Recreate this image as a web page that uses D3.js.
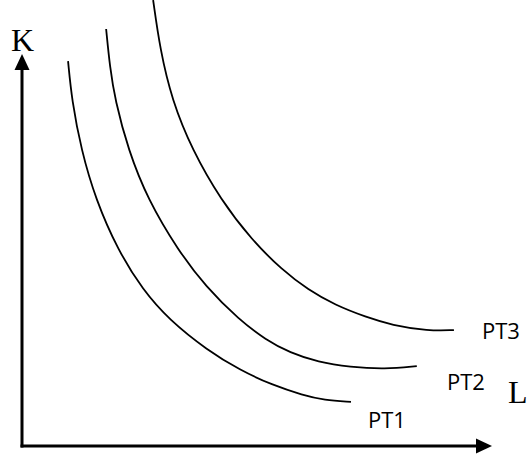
<!DOCTYPE html>
<html>
<head>
<meta charset="utf-8">
<script src="https://cdn.jsdelivr.net/npm/d3@7"></script>
<style>
  body { margin: 0; background: #fff; }
  svg { display: block; }
</style>
</head>
<body>
<div id="viz"></div>
<script>
// global variables
let w = 529;
let h = 459;

// isoquant curves (L, K)
let pt1L = [0.98, 1.06, 1.26, 1.57, 2.04, 2.57, 3.13, 3.94, 4.64, 5.32, 5.98, 6.43, 7.00];
let pt1K = [8.63, 7.76, 6.64, 5.52, 4.39, 3.50, 2.83, 2.15, 1.70, 1.37, 1.14, 1.03, 0.99];

let pt2L = [1.79, 1.87, 1.98, 2.26, 2.68, 3.32, 3.91, 4.62, 5.19, 5.70, 6.30, 6.98, 7.72, 8.40];
let pt2K = [9.35, 8.50, 7.76, 6.64, 5.52, 4.39, 3.57, 2.83, 2.38, 2.09, 1.88, 1.77, 1.72, 1.79];

let pt3L = [2.79, 2.94, 3.19, 3.62, 4.23, 4.89, 5.53, 6.09, 6.66, 7.32, 7.87, 8.64, 9.19];
let pt3K = [10.00, 8.88, 7.76, 6.64, 5.52, 4.62, 3.95, 3.50, 3.16, 2.89, 2.71, 2.58, 2.60];

let curveNames = ["PT1", "PT2", "PT3"];
let axisNames = ["K", "L"];

// put the svg onto the page:
let viz = d3.select("#viz")
  .append("svg")
    .attr("width", w)
    .attr("height", h)
;

// SCALES
let xScale = d3.scaleLinear().domain([0, 10]).range([22, 492]);
let yScale = d3.scaleLinear().domain([0, 10]).range([446, 0]);

// axes with arrow heads
let yTip = 8.79;
let xTip = 10;
let x0 = xScale(0);
let y0 = yScale(0);

viz.append("line")
  .attr("x1", x0).attr("y1", y0 + 1.5)
  .attr("x2", x0).attr("y2", yScale(yTip) + 12)
  .attr("stroke", "black")
  .attr("stroke-width", 3);

viz.append("line")
  .attr("x1", x0 - 1.5).attr("y1", y0)
  .attr("x2", xScale(xTip) - 12).attr("y2", y0)
  .attr("stroke", "black")
  .attr("stroke-width", 3);

viz.append("path")
  .attr("d", "M" + x0 + "," + yScale(yTip) + " L" + (x0 - 7.5) + "," + (yScale(yTip) + 16) + " L" + (x0 + 7.5) + "," + (yScale(yTip) + 16) + " Z")
  .attr("fill", "black");

viz.append("path")
  .attr("d", "M" + xScale(xTip) + "," + y0 + " L" + (xScale(xTip) - 16) + "," + (y0 - 7.5) + " L" + (xScale(xTip) - 16) + "," + (y0 + 7.5) + " Z")
  .attr("fill", "black");

// CURVES
let lineMaker = d3.line()
  .x(function(d){ return xScale(d[0]); })
  .y(function(d){ return yScale(d[1]); })
  .curve(d3.curveBasis);

let curves = [d3.zip(pt1L, pt1K), d3.zip(pt2L, pt2K), d3.zip(pt3L, pt3K)];

viz.selectAll(".isoquant").data(curves).enter()
  .append("path")
    .attr("class", "isoquant")
    .attr("d", lineMaker)
    .attr("fill", "none")
    .attr("stroke", "black")
    .attr("stroke-width", 1.8);

// curve labels
let labelX = [368, 447, 482];
let labelY = [428, 390, 339];
viz.selectAll(".ptlabel").data(curveNames).enter()
  .append("text")
    .attr("class", "ptlabel")
    .text(function(d){ return d; })
    .attr("x", function(d, i){ return labelX[i]; })
    .attr("y", function(d, i){ return labelY[i]; })
    .style("font-family", "'Open Sans', sans-serif")
    .style("font-size", "22px")
    .attr("fill", "black");

// axis letters
viz.append("text")
  .text(axisNames[0])
  .attr("x", 11)
  .attr("y", 51)
  .style("font-family", "'Liberation Serif', serif")
  .style("font-size", "32px");

viz.append("text")
  .text(axisNames[1])
  .attr("x", 508)
  .attr("y", 403)
  .style("font-family", "'Liberation Serif', serif")
  .style("font-size", "32px");
</script>
</body>
</html>
